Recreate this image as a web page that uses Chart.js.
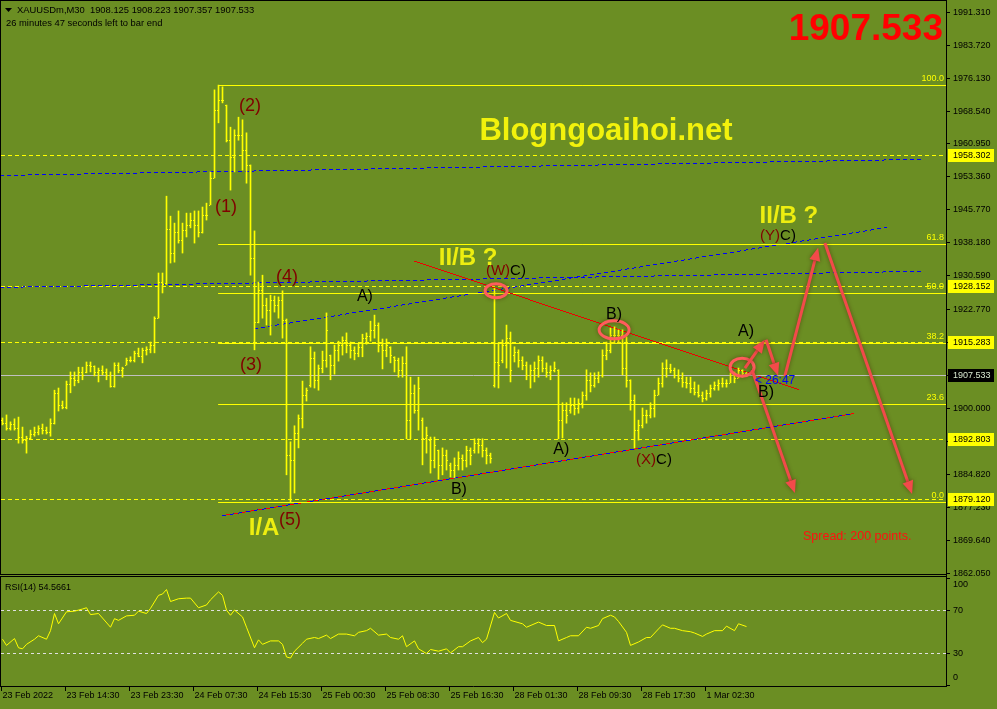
<!DOCTYPE html>
<html><head><meta charset="utf-8">
<script src="https://cdn.jsdelivr.net/npm/chart.js@4.4.0/dist/chart.umd.min.js"></script>
<style>
html,body{margin:0;padding:0;background:#6b8e23;width:997px;height:709px;overflow:hidden}
#c1{position:absolute;left:0;top:0}
#c2{position:absolute;left:0;top:576px}
</style></head><body>
<canvas id="c1" width="997" height="576"></canvas>
<canvas id="c2" width="997" height="133"></canvas>
<script>
// ---------- DATA (XAUUSDm M30 bars, index 0 = first visible bar) ----------
const opens = [
1897.2,1896.5,1895.4,1896.3,1895.4,1893.3,1892.6,1893.1,1894.0,1894.5,
1895.4,1894.9,1894.5,1896.5,1903.5,1900.7,1900.2,1905.5,1906.9,1906.5,
1908.3,1908.3,1909.9,1909.7,1908.3,1908.8,1908.3,1907.6,1905.1,1909.9,
1908.8,1909.9,1911.1,1911.1,1912.7,1912.0,1913.4,1913.6,1914.5,1920.7,
1929.0,1928.8,1941.2,1935.7,1940.5,1938.7,1941.0,1942.2,1943.3,1942.2,
1940.5,1944.5,1946.8,1953.0,1968.7,1971.0,1969.8,1961.7,1957.8,1962.9,
1962.9,1959.4,1956.0,1934.6,1919.8,1927.2,1923.7,1922.6,1924.9,1923.7,
1924.9,1920.3,1889.2,1888.0,1894.2,1897.7,1903.0,1905.3,1911.5,1906.5,
1909.2,1911.1,1912.2,1909.9,1913.4,1914.5,1915.7,1914.5,1913.4,1912.7,
1914.1,1916.1,1916.6,1918.0,1919.1,1914.5,1913.4,1914.1,1911.8,1911.1,
1908.8,1910.4,1897.2,1903.5,1899.5,1897.2,1893.1,1892.6,1888.0,1890.3,
1886.9,1889.2,1886.9,1885.7,1886.9,1888.5,1888.0,1890.3,1890.3,1891.9,
1891.5,1890.3,1889.2,1905.3,1910.6,1911.1,1914.5,1916.1,1912.2,1912.9,
1911.1,1909.9,1907.6,1908.8,1909.2,1911.1,1909.2,1908.3,1908.8,1908.8,
1897.2,1899.5,1899.5,1900.7,1900.0,1901.2,1903.0,1906.5,1905.3,1906.9,
1907.6,1912.2,1913.4,1916.8,1916.8,1916.8,1909.2,1906.5,1901.8,1894.9,
1896.1,1898.4,1898.4,1900.0,1903.0,1905.8,1909.2,1909.2,1908.8,1907.6,
1906.9,1906.0,1905.8,1904.6,1903.7,1903.0,1902.3,1903.5,1904.6,1905.3,
1905.8,1905.8,1905.8,1907.6,1906.9,1908.8,1908.125];
const highs = [
1897.7,1898.4,1896.8,1897.5,1897.9,1895.6,1893.5,1894.9,1895.6,1895.9,
1896.3,1895.6,1897.5,1904.1,1904.6,1901.6,1906.2,1908.3,1908.3,1909.4,
1909.4,1910.6,1910.6,1909.7,1909.2,1909.7,1909.0,1908.3,1910.4,1910.4,
1909.4,1911.5,1911.8,1913.1,1913.8,1913.8,1914.1,1915.2,1921.0,1931.1,
1931.1,1948.8,1944.2,1942.6,1945.4,1942.6,1944.9,1944.9,1945.4,1945.4,
1946.3,1947.2,1954.4,1973.3,1974.4,1974.0,1969.8,1964.7,1964.1,1967.0,
1966.4,1963.4,1956.0,1940.8,1929.0,1930.6,1925.3,1926.0,1925.8,1925.6,
1927.0,1920.5,1892.2,1895.9,1898.4,1906.2,1904.6,1914.1,1912.9,1909.9,
1913.1,1921.9,1912.2,1914.5,1915.4,1916.4,1917.3,1915.2,1914.1,1914.7,
1917.0,1917.3,1920.0,1921.4,1919.6,1915.9,1915.9,1914.1,1911.8,1911.5,
1911.8,1914.1,1907.1,1905.3,1907.1,1897.7,1895.6,1893.3,1893.3,1890.3,
1890.8,1890.3,1887.3,1888.5,1889.9,1889.2,1891.2,1890.8,1892.9,1892.9,
1892.9,1890.8,1889.6,1927.6,1915.0,1915.7,1919.1,1917.5,1914.1,1913.4,
1911.8,1910.6,1909.9,1910.6,1912.0,1911.8,1910.4,1909.7,1910.6,1908.8,
1901.2,1901.2,1902.3,1902.3,1902.1,1903.7,1908.8,1908.1,1908.1,1908.3,
1913.4,1915.2,1918.4,1918.7,1918.0,1918.0,1916.4,1906.5,1903.0,1897.2,
1900.0,1899.5,1901.2,1904.1,1906.9,1910.4,1911.1,1910.1,1909.2,1908.8,
1908.1,1907.1,1907.1,1906.0,1905.3,1903.7,1904.1,1905.3,1906.0,1906.5,
1906.9,1906.5,1908.1,1908.3,1909.2,1908.8,1908.223];
const lows = [
1896.1,1894.9,1894.9,1894.9,1891.9,1891.9,1889.6,1892.9,1893.5,1893.8,
1894.0,1894.0,1893.5,1896.3,1899.3,1899.8,1899.8,1903.5,1905.1,1905.8,
1906.5,1908.1,1908.3,1907.4,1906.0,1907.6,1906.5,1904.8,1904.8,1908.1,
1907.1,1909.9,1910.6,1910.6,1911.8,1910.4,1912.2,1912.7,1912.7,1920.7,
1926.5,1928.5,1933.4,1933.6,1938.0,1935.7,1939.4,1941.5,1938.0,1939.4,
1940.3,1943.3,1946.8,1953.0,1965.7,1970.3,1961.3,1950.2,1954.4,1961.7,
1954.8,1951.8,1930.6,1913.4,1919.6,1920.7,1919.1,1916.8,1922.1,1920.7,
1916.1,1884.6,1878.3,1880.4,1890.8,1895.4,1901.6,1904.8,1904.6,1904.1,
1908.1,1909.4,1906.5,1907.8,1910.8,1912.2,1912.7,1911.5,1911.1,1911.8,
1911.8,1914.7,1915.4,1916.1,1912.9,1909.0,1911.8,1910.4,1908.3,1907.1,
1907.1,1892.9,1892.9,1898.8,1894.9,1886.9,1889.6,1885.0,1886.2,1883.6,
1884.6,1885.7,1884.1,1883.9,1885.7,1885.7,1886.4,1886.9,1889.6,1889.6,
1888.7,1887.1,1887.3,1904.8,1904.6,1910.4,1909.2,1906.0,1910.6,1909.4,
1908.8,1906.5,1904.6,1906.0,1907.1,1908.3,1907.1,1906.5,1908.3,1892.9,
1893.1,1896.5,1898.8,1898.4,1898.8,1900.0,1901.8,1903.7,1904.8,1905.8,
1907.1,1911.1,1912.7,1915.0,1915.2,1907.6,1904.8,1899.5,1890.8,1892.6,
1895.4,1896.5,1897.7,1897.9,1903.0,1904.8,1907.1,1908.1,1906.9,1906.0,
1904.8,1904.6,1903.5,1903.0,1902.5,1901.4,1901.8,1902.5,1904.1,1904.1,
1904.8,1904.8,1905.8,1905.8,1906.9,1907.1,1907.357];
const closes = [
1896.5,1895.4,1896.3,1895.4,1893.3,1892.6,1893.1,1894.0,1894.5,1895.4,
1894.9,1894.5,1896.5,1903.5,1900.7,1900.2,1905.5,1906.9,1906.5,1908.3,
1907.6,1909.9,1909.7,1908.3,1908.8,1908.3,1907.6,1905.1,1909.9,1908.8,
1909.2,1911.1,1911.1,1912.7,1912.0,1913.4,1913.6,1914.5,1920.7,1929.0,
1928.6,1941.2,1935.7,1940.5,1938.7,1941.0,1942.2,1943.3,1942.2,1940.5,
1944.5,1944.5,1953.0,1968.7,1971.0,1971.0,1961.7,1957.8,1962.9,1962.9,
1959.4,1956.0,1934.6,1919.8,1927.2,1923.7,1922.6,1924.9,1923.7,1924.9,
1920.3,1889.2,1888.0,1894.2,1897.7,1903.0,1904.1,1911.5,1906.5,1909.2,
1911.1,1918.0,1909.9,1913.4,1914.5,1915.7,1914.5,1913.4,1912.7,1914.1,
1916.1,1916.6,1918.0,1919.1,1914.5,1913.4,1914.5,1912.2,1911.1,1908.8,
1910.4,1897.2,1903.5,1899.5,1904.6,1893.1,1893.8,1888.0,1891.5,1886.9,
1889.2,1888.0,1885.7,1886.9,1888.5,1888.0,1890.3,1889.2,1891.9,1891.5,
1890.3,1889.2,1888.5,1910.6,1909.9,1914.5,1916.1,1908.8,1912.9,1911.1,
1909.9,1907.6,1908.8,1909.2,1911.1,1909.2,1908.3,1908.8,1909.2,1897.2,
1899.5,1898.4,1900.7,1900.0,1901.2,1903.0,1906.5,1905.3,1906.9,1907.6,
1912.2,1913.4,1916.8,1916.8,1916.8,1909.2,1906.5,1901.8,1894.9,1896.1,
1898.4,1898.4,1900.0,1903.0,1905.8,1909.2,1909.2,1908.8,1907.6,1906.9,
1906.0,1905.8,1904.6,1903.7,1903.0,1902.3,1903.5,1904.6,1905.3,1905.8,
1905.8,1905.8,1907.6,1906.9,1908.8,1908.1,1907.533];

// RSI(14) readings (bar index -> value)
const rsiIdx = [0,1,3,4,5,6,8,9,11,12,13,14,16,18,20,21,22,24,25,27,28,29,31,33,34,36,37,39,40,41,42,44,46,47,49,51,52,54,55,56,57,58,60,61,63,64,65,67,69,70,71,72,73,75,76,78,79,81,82,84,86,88,89,91,92,94,96,97,99,100,101,103,104,106,107,109,111,112,114,115,117,119,120,121,123,124,126,127,130,131,134,136,138,139,141,142,144,146,147,149,150,152,153,154,156,157,159,161,162,164,165,167,168,170,172,173,175,176,178,180,181,183,184,186];
const rsiVal = [42.8,37,43.4,34.8,33.8,38,42.8,46,42.8,50.8,66.8,57.2,68.4,69,71,72.2,65.8,66.8,62.6,54,62,60.4,64.6,65.2,69,66.8,71.6,83.8,85,89.2,78,80.6,81.2,81.2,72.2,74.8,79.6,87,83.8,70,65.2,70,63.6,54,34.8,42.2,38,41.2,41.2,38,26.2,25.2,31.6,39,42.8,44.4,43.4,46.6,43.4,47.6,47.6,46,49.2,50.8,53,46.6,47.6,44.4,42.8,46,35.8,41.2,33.8,29.4,33.2,31.6,33.8,30,35.8,35.8,41.2,44.4,39.6,42.8,67.8,62.6,66.8,60.4,57.2,54,58.8,55.6,55.6,41.2,44.4,46,46,54,53,55.6,62,65.2,63.6,59.4,49.2,37,40.2,44.4,44.4,52.4,56.2,53,53,50.8,49.8,48.6,45.4,47.6,50.8,50.8,55,50.8,57.2,54.6];

// axis labels
const timeLabels = ['23 Feb 2022','23 Feb 14:30','23 Feb 23:30','24 Feb 07:30','24 Feb 15:30','25 Feb 00:30','25 Feb 08:30','25 Feb 16:30','28 Feb 01:30','28 Feb 09:30','28 Feb 17:30','1 Mar 02:30'];
const timeLabelIdx = [0,16,32,48,64,80,96,112,128,144,160,176];
const priceTicks = [1991.31,1983.72,1976.13,1968.54,1960.95,1953.36,1945.77,1938.18,1930.59,1922.77,1915.18,1907.59,1900.00,1892.41,1884.82,1877.23,1869.64,1862.05];
const rsiTicks = [100,70,30,0];
const rsiLevels = [70,30];

// horizontal levels
const dashedLevels = [1958.302,1928.152,1915.283,1892.803,1879.120];
const boxLevels = [1958.302,1928.152,1915.283,1892.803,1879.120];
const lastPrice = 1907.533;
const fibNames = ['100.0','61.8','50.0','38.2','23.6','0.0'];
const fibPrices = [1974.42,1937.7,1926.4,1915.0,1901.0,1878.3];
const fibStartIdx = 53.9;

// trend lines [idx1, price1, idx2, price2]
const blueLines = [[-0.6,1953.7,229.4,1957.4],[-0.6,1927.9,229.4,1931.6],[62.9,1918.4,220.9,1941.7]];
const channelLow = [54.8,1875.3,212.6,1898.8];
const redTrend = [102.9,1933.9,198.9,1904.4];
const circles = [[123.4,1927.0],[152.9,1918.0],[184.9,1909.4]];
const arrows = [[187.4,1908.75,198.1,1880.4],[185.6,1909.2,190.6,1915.7],[190.9,1915.7,193.9,1907.4],[195.6,1907.4,203.9,1936.9],[205.6,1938.0,227.4,1880.2]];

// wave labels [text, idx, price]
const waveLabels = [['(1)',55.9,1946.3],['(2)',61.9,1969.6],['(3)',62.1,1909.9],['(4)',71.1,1930.2],['(5)',71.9,1874.2]];
const subLabels = [['A)',90.6,1925.6],['B)',114.1,1881.1],['A)',139.7,1890.4],['B)',152.9,1921.6],['A)',185.9,1917.6],['B)',190.9,1903.5]];
const pairLabels = [['(W)','C)',126.9,1931.7],['(X)','C)',163.4,1888.0],['(Y)','C)',194.4,1939.6]];
const bigLabels = [['II/B ?',116.4,1934.4],['II/B ?',196.6,1944.2],['I/A',65.4,1872.2]];
const timerLabel = ['< 26:47',188.1,1906.2];

// ---------- RENDER ----------
const F = '"Liberation Sans", Arial, sans-serif';
const X_MIN = -0.375, X_MAX = 235.875;
const YEL = '#ffff00';

function txt(ctx,s,x,y,font,color,align,base){ctx.font=font;ctx.fillStyle=color;ctx.textAlign=align||'left';ctx.textBaseline=base||'middle';ctx.fillText(s,x,y);}
function seg(ctx,x1,y1,x2,y2){ctx.beginPath();ctx.moveTo(x1,y1);ctx.lineTo(x2,y2);ctx.stroke();}
// crisp (non-antialiased) pixel line, optional dash pattern along x
function pixLine(ctx,x1,y1,x2,y2,color,on,off){
  ctx.fillStyle=color;
  const xa=Math.round(x1), xb=Math.round(x2);
  let py=null;
  for(let x=xa;x<=xb;x++){
    const t=(x-x1)/(x2-x1), y=Math.round(y1+(y2-y1)*t);
    const ph=(x-xa)%(on+off);
    if(!on||ph<on){
      if(py!==null && Math.abs(y-py)>1){const lo=Math.min(y,py)+1,hi=Math.max(y,py);ctx.fillRect(x,lo,1,hi-lo);}
      ctx.fillRect(x,y,1,1);
    }
    py=y;
  }
}

const backPlugin = {
  id:'back',
  beforeDatasetsDraw(chart){
    const ctx=chart.ctx, xs=chart.scales.x, ys=chart.scales.y, a=chart.chartArea;
    const X=i=>xs.getPixelForValue(i), Y=p=>ys.getPixelForValue(p);
    ctx.save();
    ctx.beginPath();ctx.rect(a.left,a.top,a.right-a.left,a.bottom-a.top);ctx.clip();
    ctx.strokeStyle=YEL;ctx.lineWidth=1;ctx.setLineDash([4,3]);
    dashedLevels.forEach(p=>{const y=Math.round(Y(p))+0.5;seg(ctx,a.left,y,a.right,y);});
    ctx.setLineDash([]);
    blueLines.forEach(l=>pixLine(ctx,X(l[0]),Y(l[1]),X(l[2]),Y(l[3]),'#0000ff',4,3));
    pixLine(ctx,X(channelLow[0]),Y(channelLow[1]),X(channelLow[2]),Y(channelLow[3]),'#ff0000',0,0);
    pixLine(ctx,X(channelLow[0]),Y(channelLow[1]),X(channelLow[2]),Y(channelLow[3]),'#0000ff',4,4);
    ctx.strokeStyle=YEL;
    fibPrices.forEach((p,k)=>{const y=Math.round(Y(p))+0.5;seg(ctx,X(fibStartIdx),y,a.right,y);
      txt(ctx,fibNames[k],a.right-2,y-2,'9px '+F,YEL,'right','bottom');});
    pixLine(ctx,X(redTrend[0]),Y(redTrend[1]),X(redTrend[2]),Y(redTrend[3]),'#ee0000',0,0);
    ctx.strokeStyle='#c0c0c0';
    const yl=Math.round(Y(lastPrice))+0.5;seg(ctx,a.left,yl,a.right,yl);
    ctx.restore();
  },
  afterDatasetsDraw(chart){
    const ctx=chart.ctx, xs=chart.scales.x, ys=chart.scales.y, a=chart.chartArea;
    const X=i=>xs.getPixelForValue(i), Y=p=>ys.getPixelForValue(p);
    ctx.save();
    ctx.fillStyle=YEL;
    for(let i=0;i<closes.length;i++){
      const xc=X(i);
      ctx.fillRect(xc-1.5,Math.round(Y(opens[i])),1,1);
      ctx.fillRect(xc+0.5,Math.round(Y(closes[i])),1,1);
    }
    ctx.shadowColor='rgba(60,0,0,0.45)';ctx.shadowBlur=4;
    ctx.strokeStyle='#ff5c5c';ctx.lineWidth=3;
    const rad=[[11,7],[15,9],[12,9]];
    circles.forEach((c,k)=>{ctx.beginPath();ctx.ellipse(X(c[0]),Y(c[1]),rad[k][0],rad[k][1],0,0,Math.PI*2);ctx.stroke();});
    ctx.strokeStyle='#f24a4a';ctx.fillStyle='#f24a4a';ctx.lineWidth=3;
    arrows.forEach(r=>{
      const x1=X(r[0]),y1=Y(r[1]),x2=X(r[2]),y2=Y(r[3]);
      const an=Math.atan2(y2-y1,x2-x1),L=13,W=5.5;
      const bx=x2-L*Math.cos(an),by=y2-L*Math.sin(an);
      seg(ctx,x1,y1,bx,by);
      ctx.beginPath();ctx.moveTo(x2,y2);ctx.lineTo(bx+W*Math.sin(an),by-W*Math.cos(an));ctx.lineTo(bx-W*Math.sin(an),by+W*Math.cos(an));ctx.closePath();ctx.fill();
    });
    ctx.shadowColor='transparent';ctx.shadowBlur=0;
    waveLabels.forEach(l=>txt(ctx,l[0],X(l[1]),Y(l[2]),'18px '+F,'#800000','center'));
    subLabels.forEach(l=>txt(ctx,l[0],X(l[1]),Y(l[2]),'16px '+F,'#000000','center'));
    pairLabels.forEach(l=>{txt(ctx,l[0],X(l[2]),Y(l[3]),'15px '+F,'#800000','right');txt(ctx,l[1],X(l[2]),Y(l[3]),'15px '+F,'#000000','left');});
    bigLabels.forEach(l=>txt(ctx,l[0],X(l[1]),Y(l[2]),'bold 24px '+F,'#eeee10','center'));
    txt(ctx,timerLabel[0],X(timerLabel[1]),Y(timerLabel[2]),'12px '+F,'#0000ff','left');
    txt(ctx,'Blogngoaihoi.net',606,131,'bold 31px '+F,'#f2f20c','center');
    txt(ctx,'Spread: 200 points.',803,537,'12.5px '+F,'#ff1010','left');
    txt(ctx,'1907.533',943,40,'bold 37px '+F,'#ff0000','right','alphabetic');
    ctx.fillStyle='#000';ctx.beginPath();ctx.moveTo(5,8);ctx.lineTo(12,8);ctx.lineTo(8.5,12);ctx.closePath();ctx.fill();
    txt(ctx,'XAUUSDm,M30  1908.125 1908.223 1907.357 1907.533',17,10.5,'9.4px '+F,'#000','left');
    txt(ctx,'26 minutes 47 seconds left to bar end',6,23.5,'9.4px '+F,'#000','left');
    ctx.strokeStyle='#000';ctx.lineWidth=1;ctx.setLineDash([]);
    ctx.strokeRect(0.5,0.5,946,574);
    seg(ctx,946.5,0,946.5,576);
    priceTicks.forEach(p=>{const y=Math.round(Y(p))+0.5;seg(ctx,946,y,950,y);
      txt(ctx,p.toFixed(3),953,y,'9px '+F,'#000','left');});
    const box=(p,bg,fg)=>{const y=Math.round(Y(p));ctx.fillStyle=bg;ctx.fillRect(948,y-6,46,13);
      txt(ctx,p.toFixed(3),953,y+0.5,'9px '+F,fg,'left');};
    boxLevels.forEach(p=>box(p,YEL,'#000'));
    box(lastPrice,'#000000','#d8e8d0');
    ctx.restore();
  }
};

new Chart(document.getElementById('c1'),{
  type:'bar',
  data:{datasets:[{data:highs.map((h,i)=>({x:i,y:[lows[i],h]})),backgroundColor:YEL,borderWidth:0,barThickness:1}]},
  options:{responsive:false,animation:false,devicePixelRatio:1,events:[],
    layout:{padding:{left:1,right:51,top:1,bottom:1}},
    plugins:{legend:{display:false},tooltip:{enabled:false}},
    scales:{x:{type:'linear',offset:false,min:X_MIN,max:X_MAX,display:false},
            y:{type:'linear',min:1861.517,max:1993.775,display:false}}},
  plugins:[backPlugin]
});

const rsiPlugin = {
  id:'rsiDeco',
  beforeDatasetsDraw(chart){
    const ctx=chart.ctx, ys=chart.scales.y, a=chart.chartArea;
    ctx.save();ctx.strokeStyle='#e0e0e0';ctx.lineWidth=1;ctx.setLineDash([3,3]);
    rsiLevels.forEach(v=>{const y=Math.round(ys.getPixelForValue(v))+0.5;seg(ctx,a.left,y,a.right,y);});
    ctx.restore();
  },
  afterDatasetsDraw(chart){
    const ctx=chart.ctx, xs=chart.scales.x, ys=chart.scales.y;
    ctx.save();ctx.strokeStyle='#000';ctx.lineWidth=1;ctx.setLineDash([]);
    seg(ctx,0,0.5,946,0.5);seg(ctx,0.5,0,0.5,110);seg(ctx,946.5,0,946.5,111);
    seg(ctx,0,110.5,947,110.5);
    txt(ctx,'RSI(14) 54.5661',5,11.5,'9px '+F,'#000','left');
    rsiTicks.forEach(v=>{let y=Math.round(ys.getPixelForValue(v))+0.5;
      seg(ctx,946,y,950,y);
      const ly=v===100?9:(v===0?102:y);
      txt(ctx,String(v),953,ly,'9px '+F,'#000','left');});
    timeLabelIdx.forEach((ix,k)=>{const x=Math.round(xs.getPixelForValue(ix))-1.5;
      seg(ctx,x,110,x,115);
      txt(ctx,timeLabels[k],x+1,120,'9px '+F,'#000','left');});
    ctx.restore();
  }
};

new Chart(document.getElementById('c2'),{
  type:'line',
  data:{datasets:[{data:rsiIdx.map((x,k)=>({x:x,y:rsiVal[k]})),borderColor:YEL,borderWidth:1,pointRadius:0,tension:0,fill:false}]},
  options:{responsive:false,animation:false,devicePixelRatio:1,events:[],
    layout:{padding:{left:1,right:51,top:2,bottom:24}},
    plugins:{legend:{display:false},tooltip:{enabled:false}},
    scales:{x:{type:'linear',offset:false,min:X_MIN,max:X_MAX,display:false},
            y:{type:'linear',min:0,max:100,display:false}}},
  plugins:[rsiPlugin]
});
</script>
</body></html>
